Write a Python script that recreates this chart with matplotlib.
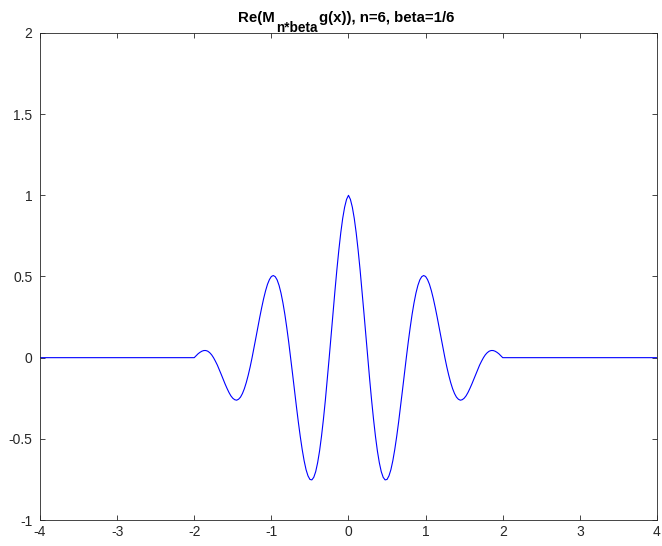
import numpy as np
import matplotlib
matplotlib.use('Agg')
import matplotlib.pyplot as plt

# sample positions on the support [-2, 2], step 0.025
x_samples = np.linspace(-2, 2, 161)
# values for x = -2 .. 0 (left half)
y_left = [0.000, 0.012, 0.024, 0.033, 0.040, 0.044, 0.044, 0.040, 0.031, 0.018,
          0.000, -0.022, -0.046, -0.074, -0.103, -0.133, -0.162, -0.189, -0.214, -0.235,
          -0.250, -0.259, -0.262, -0.256, -0.243, -0.221, -0.191, -0.153, -0.108, -0.057,
          0.000, 0.061, 0.124, 0.187, 0.250, 0.309, 0.364, 0.412, 0.452, 0.481,
          0.500, 0.506, 0.499, 0.479, 0.445, 0.398, 0.338, 0.267, 0.185, 0.096,
          0.000, -0.100, -0.201, -0.301, -0.397, -0.486, -0.566, -0.635, -0.690, -0.728,
          -0.750, -0.753, -0.737, -0.702, -0.647, -0.575, -0.485, -0.380, -0.263, -0.135,
          0.000, 0.139, 0.278, 0.414, 0.544, 0.663, 0.769, 0.858, 0.927, 0.975]
# values for x = 0 .. 2 (right half)
y_right = [1.000, 0.975, 0.927, 0.858, 0.769, 0.663, 0.544, 0.414, 0.278, 0.139,
           0.000, -0.135, -0.263, -0.380, -0.485, -0.575, -0.647, -0.702, -0.737, -0.753,
           -0.750, -0.728, -0.690, -0.635, -0.566, -0.486, -0.397, -0.301, -0.201, -0.100,
           0.000, 0.096, 0.185, 0.267, 0.338, 0.398, 0.445, 0.479, 0.499, 0.506,
           0.500, 0.481, 0.452, 0.412, 0.364, 0.309, 0.250, 0.187, 0.124, 0.061,
           0.000, -0.057, -0.108, -0.153, -0.191, -0.221, -0.243, -0.256, -0.262, -0.259,
           -0.250, -0.235, -0.214, -0.189, -0.162, -0.133, -0.103, -0.074, -0.046, -0.022,
           0.000, 0.018, 0.031, 0.040, 0.044, 0.044, 0.040, 0.033, 0.024, 0.012,
           0.000]

x = [-4.0] + list(x_samples) + [4.0]
y = [0.0] + y_left + y_right + [0.0]

title_parts = ['Re(M', 'n*beta', 'g(x)), n=6, beta=1/6']

plt.rcParams['font.family'] = ['Liberation Sans', 'DejaVu Sans']
plt.rcParams['font.size'] = 10
plt.rcParams['axes.unicode_minus'] = False

fig = plt.figure(figsize=(6.62, 5.46), dpi=100)
ax = fig.add_axes([0.0604, 0.0476, 0.932, 0.892])
ax.plot(x, y, color='blue', linewidth=0.8)

ax.set_xlim(-4, 4)
ax.set_ylim(-1, 2)
ax.set_xticks(range(-4, 5))
ax.set_yticks([-1, -0.5, 0, 0.5, 1, 1.5, 2])
ax.set_yticklabels(['-1', '-0.5', '0', '0.5', '1', '1.5', '2'])
ax.tick_params(direction='in', top=True, right=True, length=3.8, width=0.6,
               colors='#262626', labelsize=10)
ax.tick_params(axis='y', pad=5.5)
ax.tick_params(axis='x', pad=3.5)
for s in ax.spines.values():
    s.set_linewidth(0.6)
    s.set_color('#262626')

# title with a large subscript, built from three pieces
W, H = 662, 546
base_y = 1 - 22.3 / H
t1 = fig.text(0, base_y, title_parts[0], fontsize=10.8, fontweight='bold', va='baseline')
t2 = fig.text(0, base_y - 9.5 / H, title_parts[1], fontsize=9.8, fontweight='bold', va='baseline')
t3 = fig.text(0, base_y, title_parts[2], fontsize=10.8, fontweight='bold', va='baseline')
fig.canvas.draw()
r = fig.canvas.get_renderer()
w1 = t1.get_window_extent(r).width
w2 = t2.get_window_extent(r).width
w3 = t3.get_window_extent(r).width
gap1, gap2 = 1, 2
total = w1 + gap1 + w2 + gap2 + w3
x0 = 346.5 - total / 2
t1.set_x(x0 / W)
t2.set_x((x0 + w1 + gap1) / W)
t3.set_x((x0 + w1 + gap1 + w2 + gap2) / W)

fig.savefig('out.png', dpi=100)
